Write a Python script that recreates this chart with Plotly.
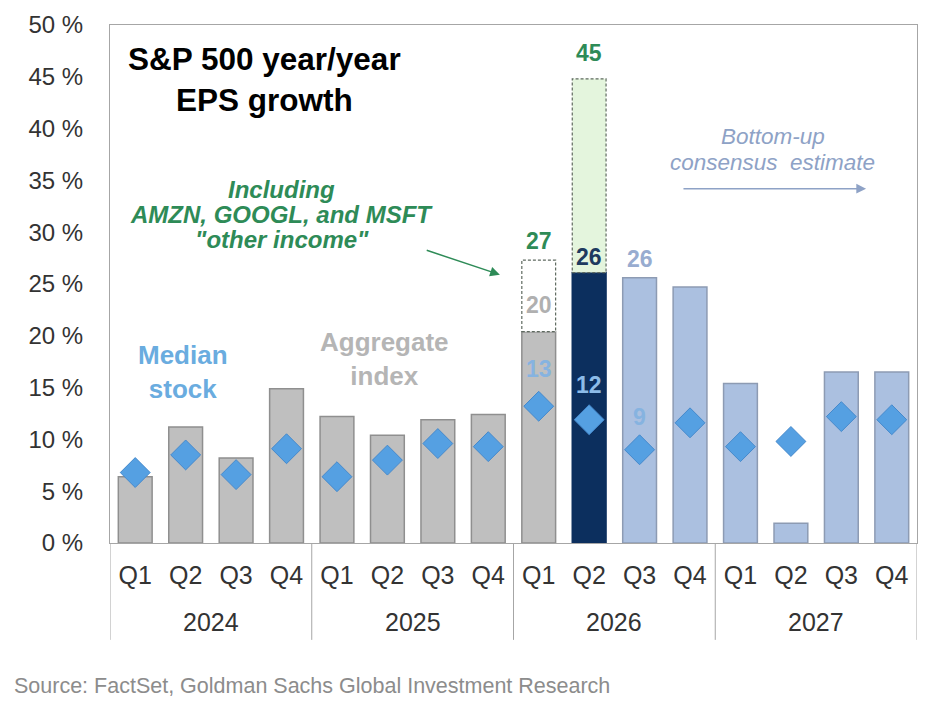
import plotly.graph_objects as go

years = ["2024", "2025", "2026", "2027"]
quarters = ["Q1", "Q2", "Q3", "Q4"]
# aggregate index y/y EPS growth (%)
aggregate = [6.4, 11.2, 8.2, 14.9, 12.2, 10.4, 11.9, 12.4,
             20.4, 26.1, 25.6, 24.7, 15.4, 1.9, 16.5, 16.5]
# median stock y/y EPS growth (%)
median = [6.8, 8.5, 6.6, 9.1, 6.4, 8.0, 9.6, 9.3,
          13.2, 11.9, 9.0, 11.6, 9.3, 9.8, 12.2, 11.9]
# including AMZN, GOOGL, MSFT "other income" (2026 Q1, Q2)
other_idx = [8, 9]
incl_other = [27.3, 44.8]
y_ticks = list(range(0, 51, 5))

n = len(aggregate)
x = list(range(n))
qlabels = [q for _ in years for q in quarters]
last_actual = 8      # 2026 Q1 still actual
highlight = 9        # 2026 Q2

FONT = "Arial, Liberation Sans, sans-serif"
GRID = "#a6a6a6"
BAR_W = 0.67

fill = []
edge = []
for i in x:
    if i <= last_actual:
        fill.append("#bfbfbf"); edge.append("#8f8f8f")
    elif i == highlight:
        fill.append("#0c2f5e"); edge.append("#0c2f5e")
    else:
        fill.append("#abc0e0"); edge.append("#8d9bb3")

fig = go.Figure()
fig.add_trace(go.Bar(x=x, y=aggregate, width=BAR_W,
                     marker=dict(color=fill, line=dict(color=edge, width=1.5)),
                     hoverinfo="y"))
fig.add_trace(go.Bar(x=other_idx,
                     y=[incl_other[k] - aggregate[i] for k, i in enumerate(other_idx)],
                     base=[aggregate[i] for i in other_idx], width=BAR_W,
                     marker=dict(color=["#ffffff", "#e4f5dd"], line=dict(width=0)),
                     hoverinfo="y"))
fig.add_trace(go.Scatter(x=x, y=median, mode="markers",
                         marker=dict(symbol="diamond", size=23, color="#55a0e2",
                                     line=dict(color="#4589cc", width=1)),
                         hoverinfo="y"))

shapes = []
# dashed outlines for the "other income" increments
for k, i in enumerate(other_idx):
    shapes.append(dict(type="rect", xref="x", yref="y",
                       x0=i - BAR_W / 2, x1=i + BAR_W / 2,
                       y0=aggregate[i], y1=incl_other[k],
                       line=dict(color="#5f6a60", width=1.2, dash="3px,2px"),
                       layer="above"))
# year group dividers
for b in range(len(years) + 1):
    shapes.append(dict(type="line", xref="x", yref="paper",
                       x0=b * 4 - 0.5, x1=b * 4 - 0.5, y0=0, y1=-0.187,
                       line=dict(color=GRID, width=1)))

ann = []
for j, yr in enumerate(years):
    ann.append(dict(x=j * 4 + 1.5, y=-0.1525, xref="x", yref="paper", text=yr,
                    yanchor="middle", showarrow=False,
                    font=dict(size=25, color="#333333")))

def label(xi, yv, txt, color, shift, anchor="bottom"):
    ann.append(dict(x=xi, y=yv, xref="x", yref="y", text="<b>%s</b>" % txt,
                    showarrow=False, yanchor=anchor, yshift=shift,
                    font=dict(size=23, color=color)))

label(other_idx[0], incl_other[0], "%.0f" % incl_other[0], "#2e8b57", 4)
label(other_idx[1], incl_other[1], "%.0f" % incl_other[1], "#2e8b57", 11)
label(highlight, aggregate[highlight], "%.0f" % aggregate[highlight], "#1e3a5f", 1)
label(last_actual, aggregate[last_actual], "%.0f" % aggregate[last_actual], "#b0b0b0", 12)
label(10, aggregate[10], "%.0f" % aggregate[10], "#98acd0", 4)
label(8, median[8], "%.0f" % median[8], "#86b3e0", 22)
label(9, median[9], "%.0f" % median[9], "#8cbbe8", 20)
label(10, median[10], "%.0f" % median[10], "#86b3e0", 18)

# text notes
ann.append(dict(x=2.57, y=44.7, xref="x", yref="y", showarrow=False,
                text="<b>S&P 500 year/year<br>EPS growth</b>",
                font=dict(size=31.5, color="#000000")))
for t, yy in zip(["Including", "AMZN, GOOGL, and MSFT", '"other income"'],
                 [34.1, 31.7, 29.3]):
    ann.append(dict(x=2.91, y=yy, xref="x", yref="y", showarrow=False,
                    text="<b><i>%s</i></b>" % t, font=dict(size=24, color="#2e8b57")))
ann.append(dict(x=7.23, y=25.9, ax=5.75, ay=28.3, xref="x", yref="y",
                axref="x", ayref="y", text="", showarrow=True, arrowhead=2,
                arrowsize=1.3, arrowwidth=1.5, arrowcolor="#2e8b57"))
for t, yy in zip(["Bottom-up", "consensus  estimate"], [39.2, 36.7]):
    ann.append(dict(x=12.64, y=yy, xref="x", yref="y", showarrow=False,
                    text="<i>%s</i>" % t, font=dict(size=22.5, color="#8ea2c6")))
ann.append(dict(x=14.49, y=34.2, ax=10.84, ay=34.2, xref="x", yref="y",
                axref="x", ayref="y", text="", showarrow=True, arrowhead=2,
                arrowsize=1.3, arrowwidth=1.5, arrowcolor="#8ea2c6"))
ann.append(dict(x=0.95, y=16.5, xref="x", yref="y", showarrow=False,
                text="<b>Median<br>stock</b>", font=dict(size=26, color="#6aacdf")))
ann.append(dict(x=4.95, y=17.8, xref="x", yref="y", showarrow=False,
                text="<b>Aggregate<br>index</b>", font=dict(size=26, color="#b5b5b5")))

ann.append(dict(x=-0.1214, y=-0.276, xref="paper", yref="paper",
                xanchor="left", yanchor="middle", showarrow=False,
                text="Source: FactSet, Goldman Sachs Global Investment Research",
                font=dict(size=21.5, color="#8c8c8c")))

# the page body adds an 8px offset, so the figure is trimmed to fit the window
fig.update_layout(
    width=920, height=707,
    margin=dict(l=102, r=11, t=17, b=172),
    paper_bgcolor="white", plot_bgcolor="white",
    barmode="overlay", showlegend=False,
    font=dict(family=FONT, color="#333333"),
    shapes=shapes, annotations=ann,
)
fig.update_xaxes(range=[-0.5, n - 0.5], tickvals=x, ticktext=qlabels,
                 showgrid=False, zeroline=False, ticks="", automargin=False,
                 showline=True, mirror=True, linecolor=GRID, linewidth=1,
                 tickfont=dict(size=25, color="#333333"), ticklabelstandoff=10)
fig.update_yaxes(range=[0, 50], tickvals=y_ticks,
                 ticktext=["%d %%" % v for v in y_ticks],
                 showgrid=False, zeroline=False, ticks="", automargin=False,
                 showline=True, mirror=True, linecolor=GRID, linewidth=1,
                 tickfont=dict(size=24, color="#333333"), ticklabelstandoff=21)

fig.write_html("out.html")
